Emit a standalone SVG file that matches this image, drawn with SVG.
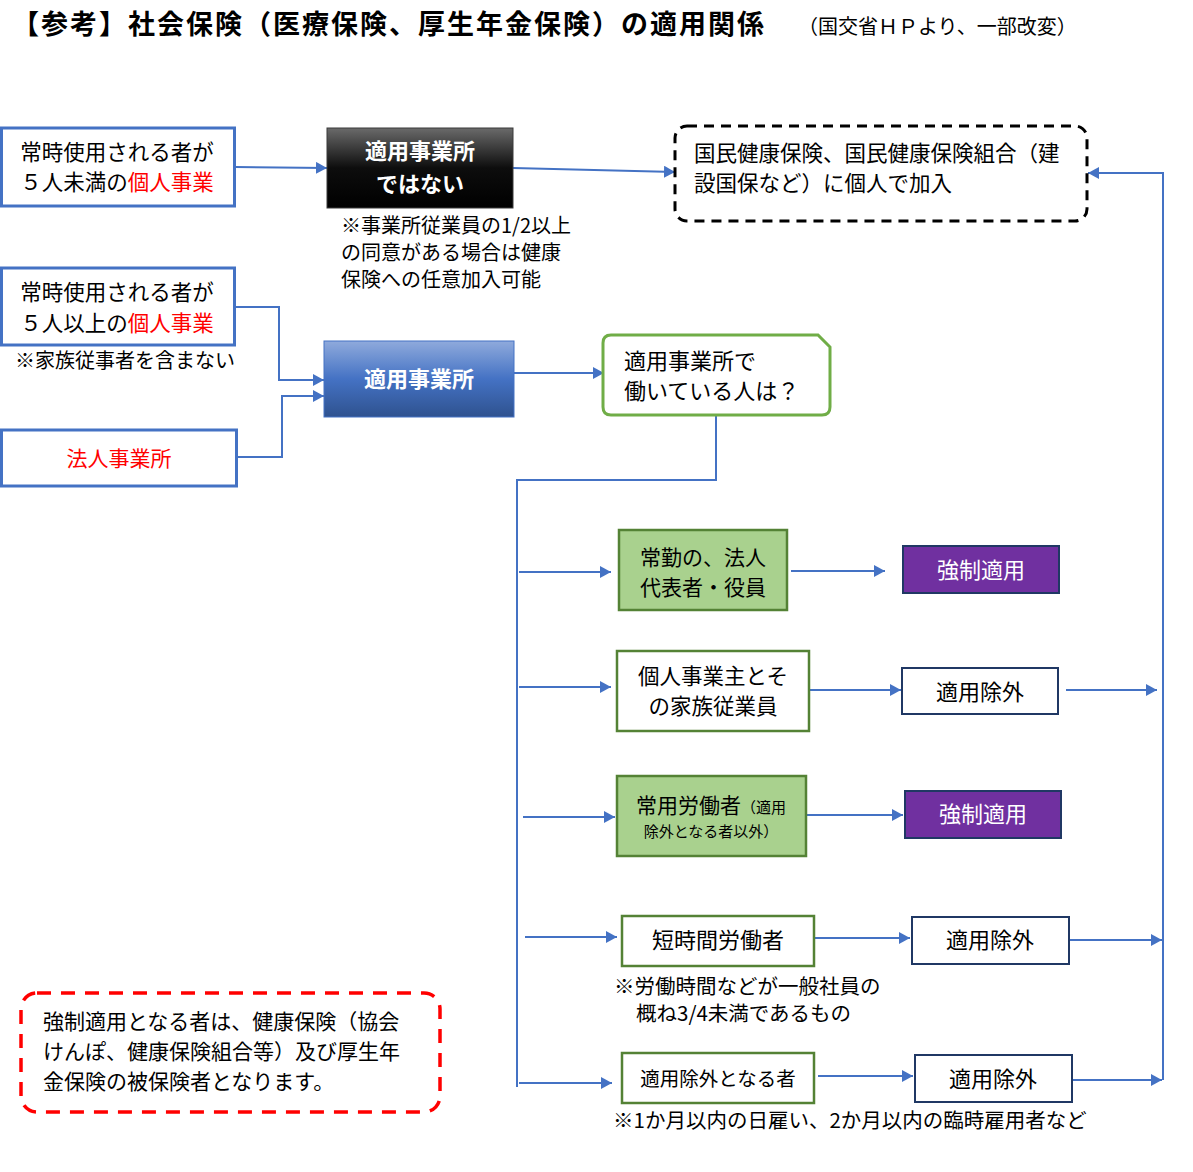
<svg xmlns="http://www.w3.org/2000/svg" width="1193" height="1172" viewBox="0 0 1193 1172">
<defs>
<marker id="arr" markerUnits="userSpaceOnUse" markerWidth="12" markerHeight="12" refX="11" refY="6" orient="auto">
<path d="M0,0 L11,6 L0,12 z" fill="#4472C4"/>
</marker>
<linearGradient id="gBlack" x1="0" y1="0" x2="0" y2="1">
<stop offset="0" stop-color="#6a6a6a"/>
<stop offset="0.5" stop-color="#0d0d0d"/>
<stop offset="1" stop-color="#000"/>
</linearGradient>
<linearGradient id="gBlue" x1="0" y1="0" x2="0" y2="1">
<stop offset="0" stop-color="#8FAADC"/>
<stop offset="0.5" stop-color="#4472C4"/>
<stop offset="1" stop-color="#2F528F"/>
</linearGradient>
</defs>
<style>
text{font-family:"Noto Sans CJK JP","Noto Sans",sans-serif;fill:#000}
.c{text-anchor:middle}
.w{fill:#fff}
.r{fill:#FF0000}
.b{font-weight:bold}
.conn{stroke:#4472C4;stroke-width:2;fill:none}
.bluebox{fill:#fff;stroke:#4472C4;stroke-width:3}
.gfill{fill:#A9D18E;stroke:#548235;stroke-width:2.5}
.gwhite{fill:#fff;stroke:#548235;stroke-width:2.5}
.purple{fill:#7030A0;stroke:#203864;stroke-width:2}
.excl{fill:#fff;stroke:#203864;stroke-width:2}
</style>
<rect width="1193" height="1172" fill="#fff"/>

<g id="title">
<text x="12" y="34" font-size="27" class="b" letter-spacing="2">【参考】社会保険（医療保険、厚生年金保険）の適用関係</text>
<text x="798" y="34" font-size="20">（国交省ＨＰより、一部改変）</text>
</g>

<g id="connectors">
<path class="conn" d="M235,167 L327,168" marker-end="url(#arr)"/>
<path class="conn" d="M513,168 L675,172" marker-end="url(#arr)"/>
<path class="conn" d="M235,307 H279 V380 H324" marker-end="url(#arr)"/>
<path class="conn" d="M237,457 H282 V396 H324" marker-end="url(#arr)"/>
<path class="conn" d="M514,373 H604" marker-end="url(#arr)"/>
<path class="conn" d="M716,415 V480 H517 V1087"/>
<path class="conn" d="M519,572 H611" marker-end="url(#arr)"/>
<path class="conn" d="M519,687 H611" marker-end="url(#arr)"/>
<path class="conn" d="M523,817 H615" marker-end="url(#arr)"/>
<path class="conn" d="M525,937 H617" marker-end="url(#arr)"/>
<path class="conn" d="M519,1083 H612" marker-end="url(#arr)"/>
<path class="conn" d="M791,571 H885" marker-end="url(#arr)"/>
<path class="conn" d="M809,690 H901" marker-end="url(#arr)"/>
<path class="conn" d="M1066,690 H1157" marker-end="url(#arr)"/>
<path class="conn" d="M806,815 H903" marker-end="url(#arr)"/>
<path class="conn" d="M814,938 H910" marker-end="url(#arr)"/>
<path class="conn" d="M1070,940 H1162" marker-end="url(#arr)"/>
<path class="conn" d="M818,1076 H913" marker-end="url(#arr)"/>
<path class="conn" d="M1072,1080 H1162" marker-end="url(#arr)"/>
<path class="conn" d="M1163,1080 V173 H1088" marker-end="url(#arr)"/>
</g>

<g id="small5">
<rect class="bluebox" x="1.5" y="128" width="233" height="78"/>
<text x="117" y="160" font-size="21.5" class="c">常時使用される者が</text>
<text x="117" y="190" font-size="21.5" class="c">５人未満の<tspan class="r">個人事業</tspan></text>
</g>

<g id="notApplied">
<rect x="327" y="128" width="186" height="80" fill="url(#gBlack)" stroke="#3a3a3a" stroke-width="1"/>
<text x="420" y="159" font-size="22" class="c w b">適用事業所</text>
<text x="420" y="192" font-size="22" class="c w b">ではない</text>
<text x="341" y="233" font-size="20">※事業所従業員の1/2以上</text>
<text x="341" y="260" font-size="20">の同意がある場合は健康</text>
<text x="341" y="287" font-size="20">保険への任意加入可能</text>
</g>

<g id="kokuho">
<rect x="675" y="126" width="412" height="95" rx="12" fill="#fff" stroke="#000" stroke-width="3" stroke-dasharray="10 7"/>
<text x="694" y="161" font-size="21.5">国民健康保険、国民健康保険組合（建</text>
<text x="694" y="191" font-size="21.5">設国保など）に個人で加入</text>
</g>

<g id="large5">
<rect class="bluebox" x="1.5" y="268" width="233" height="77"/>
<text x="117" y="300" font-size="21.5" class="c">常時使用される者が</text>
<text x="117" y="331" font-size="21.5" class="c">５人以上の<tspan class="r">個人事業</tspan></text>
<text x="15" y="368" font-size="20">※家族従事者を含まない</text>
</g>

<g id="corporate">
<rect class="bluebox" x="1.5" y="430" width="235" height="56"/>
<text x="119" y="466" font-size="21" class="c r">法人事業所</text>
</g>

<g id="applied">
<rect x="324" y="341" width="190" height="76" fill="url(#gBlue)" stroke="#4472C4" stroke-width="1"/>
<text x="419" y="387" font-size="22" class="c w b">適用事業所</text>
</g>

<g id="question">
<path d="M611,335 H818 L830,347 V407 Q830,415 822,415 H611 Q603,415 603,407 V343 Q603,335 611,335 Z" fill="#fff" stroke="#70AD47" stroke-width="3"/>
<text x="624" y="369" font-size="22">適用事業所で</text>
<text x="624" y="399" font-size="22">働いている人は？</text>
</g>

<g id="executives">
<rect class="gfill" x="619" y="530" width="168" height="80"/>
<text x="703" y="565" font-size="21" class="c">常勤の、法人</text>
<text x="703" y="595" font-size="21" class="c">代表者・役員</text>
</g>
<g id="compulsory1">
<rect class="purple" x="903" y="546" width="156" height="47"/>
<text x="981" y="578" font-size="22" class="c w">強制適用</text>
</g>

<g id="family">
<rect class="gwhite" x="617" y="651" width="192" height="80"/>
<text x="713" y="684" font-size="21.5" class="c">個人事業主とそ</text>
<text x="713" y="714" font-size="21.5" class="c">の家族従業員</text>
</g>
<g id="exclusion1">
<rect class="excl" x="902" y="668" width="156" height="46"/>
<text x="980" y="700" font-size="22" class="c">適用除外</text>
</g>

<g id="regular">
<rect class="gfill" x="617" y="776" width="189" height="80"/>
<text x="711" y="813" font-size="21" class="c">常用労働者<tspan font-size="15">（適用</tspan></text>
<text x="711" y="837" font-size="15" class="c">除外となる者以外）</text>
</g>
<g id="compulsory2">
<rect class="purple" x="905" y="791" width="156" height="47"/>
<text x="983" y="822" font-size="22" class="c w">強制適用</text>
</g>

<g id="parttime">
<rect class="gwhite" x="622" y="916" width="192" height="50"/>
<text x="718" y="948" font-size="22" class="c">短時間労働者</text>
<text x="614" y="994" font-size="20.5">※労働時間などが一般社員の</text>
<text x="636" y="1021" font-size="20.5">概ね3/4未満であるもの</text>
</g>
<g id="exclusion2">
<rect class="excl" x="912" y="917" width="157" height="47"/>
<text x="990" y="948" font-size="22" class="c">適用除外</text>
</g>

<g id="excluded">
<rect class="gwhite" x="622" y="1053" width="192" height="50"/>
<text x="718" y="1086" font-size="19.5" class="c">適用除外となる者</text>
<text x="613" y="1128" font-size="20.5">※1か月以内の日雇い、2か月以内の臨時雇用者など</text>
</g>
<g id="exclusion3">
<rect class="excl" x="915" y="1055" width="157" height="47"/>
<text x="993" y="1087" font-size="22" class="c">適用除外</text>
</g>

<g id="remark">
<rect x="21" y="993" width="419" height="119" rx="16" fill="#fff" stroke="#FF0000" stroke-width="3.5" stroke-dasharray="14 10"/>
<text x="43" y="1029" font-size="21">強制適用となる者は、健康保険（協会</text>
<text x="43" y="1059" font-size="21">けんぽ、健康保険組合等）及び厚生年</text>
<text x="43" y="1089" font-size="21">金保険の被保険者となります。</text>
</g>
</svg>
